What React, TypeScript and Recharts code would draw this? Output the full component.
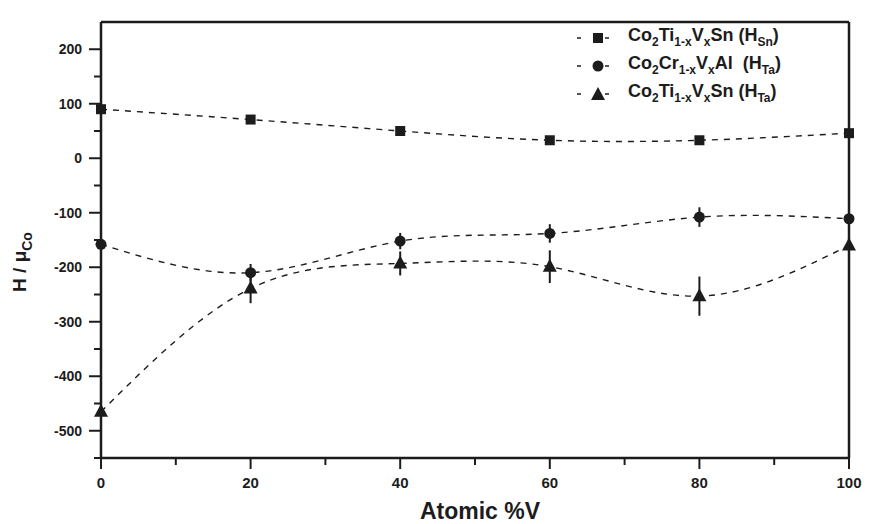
import { LineChart, Line, XAxis, YAxis, ErrorBar, Label } from "recharts";

const atomicV = [0, 20, 40, 60, 80, 100];
const tiSnHSn = [90, 71, 50, 33, 33, 46];
const crAlHTa = [-158, -210, -152, -138, -108, -111];
const crAlHTaErr = [0, 16, 15, 17, 18, 0];
const tiSnHTa = [-465, -239, -193, -199, -253, -160];
const tiSnHTaErr = [0, 27, 22, 30, 36, 0];

const xTicks = [0, 10, 20, 30, 40, 50, 60, 70, 80, 90, 100];
const yTicks = [-550, -500, -450, -400, -350, -300, -250, -200, -150, -100, -50, 0, 50, 100, 150, 200];

const data = atomicV.map((v, i) => ({
  v,
  hsn: tiSnHSn[i],
  cral: crAlHTa[i],
  cralErr: crAlHTaErr[i],
  tisn: tiSnHTa[i],
  tisnErr: tiSnHTaErr[i],
}));

const INK = "#1c1c1c";
const FONT = "'Liberation Sans', Arial, Helvetica, sans-serif";

const Square = ({ cx, cy }: any) => <rect x={cx - 5} y={cy - 5} width={10} height={10} fill={INK} />;
const Dot = ({ cx, cy }: any) => <circle cx={cx} cy={cy} r={5.5} fill={INK} />;
const Tri = ({ cx, cy }: any) => (
  <path d={`M${cx},${cy - 8} L${cx + 7},${cy + 5} L${cx - 7},${cy + 5} Z`} fill={INK} />
);

const YTick = ({ x, y, payload }: any) => {
  const major = payload.value % 100 === 0;
  return (
    <g>
      <line x1={x - (major ? 12 : 7)} x2={x} y1={y} y2={y} stroke={INK} strokeWidth={2} />
      {major && (
        <text x={x - 19} y={y} dy={5} textAnchor="end" fontSize={14} fontWeight="bold" fontFamily={FONT} fill={INK}>
          {payload.value}
        </text>
      )}
    </g>
  );
};

const XTick = ({ x, y, payload }: any) => {
  const major = payload.value % 20 === 0;
  return (
    <g>
      <line x1={x} x2={x} y1={y} y2={y + (major ? 11 : 7)} stroke={INK} strokeWidth={2} />
      {major && (
        <text x={x} y={y + 30} textAnchor="middle" fontSize={15} fontWeight="bold" fontFamily={FONT} fill={INK}>
          {payload.value}
        </text>
      )}
    </g>
  );
};

const XTitle = ({ viewBox }: any) => (
  <text x={viewBox.x + viewBox.width / 2 + 5} y={viewBox.y + 61} textAnchor="middle" fontSize={23} fontWeight="bold" fontFamily={FONT} fill={INK}>
    Atomic %V
  </text>
);

const YTitle = ({ viewBox }: any) => {
  const cx = 26;
  const cy = viewBox.y + viewBox.height / 2 + 22;
  return (
    <text transform={`translate(${cx},${cy}) rotate(-90)`} textAnchor="middle" fontSize={19} fontWeight="bold" fontFamily={FONT} fill={INK}>
      H / μ<tspan dy={6} fontSize={14}>Co</tspan>
    </text>
  );
};

const legendItems = [
  { shape: "square", main: ["Co", "2", "Ti", "1-x", "V", "x", "Sn ("], tag: ["H", "Sn"] },
  { shape: "circle", main: ["Co", "2", "Cr", "1-x", "V", "x", "Al  ("], tag: ["H", "Ta"] },
  { shape: "triangle", main: ["Co", "2", "Ti", "1-x", "V", "x", "Sn ("], tag: ["H", "Ta"] },
];

const LegendMark = ({ shape }: { shape: string }) => (
  <svg width={40} height={14} style={{ marginRight: 14 }}>
    <line x1={3} x2={7} y1={7} y2={7} stroke={INK} strokeWidth={1.5} />
    <line x1={31} x2={35} y1={7} y2={7} stroke={INK} strokeWidth={1.5} />
    {shape === "square" && <rect x={19} y={2} width={10} height={10} fill={INK} />}
    {shape === "circle" && <circle cx={24} cy={7} r={5.5} fill={INK} />}
    {shape === "triangle" && <path d="M24,0 L31,13 L17,13 Z" fill={INK} />}
  </svg>
);

export default function App() {
  return (
    <div style={{ position: "absolute", left: 0, top: 0, width: 869, height: 524, background: "#fff", fontFamily: FONT }}>
      <LineChart width={869} height={524} data={data} margin={{ top: 21, right: 19, bottom: 65, left: 100 }}>
        <XAxis
          dataKey="v"
          type="number"
          domain={[0, 100]}
          ticks={xTicks}
          height={1}
          tickSize={0}
          tickMargin={0}
          tickLine={false}
          tick={<XTick />}
          axisLine={{ stroke: INK, strokeWidth: 2.5 }}
          interval={0}
        >
          <Label content={<XTitle />} />
        </XAxis>
        <XAxis xAxisId="top" orientation="top" type="number" dataKey="v" domain={[0, 100]} height={1} tick={false} tickLine={false} axisLine={{ stroke: INK, strokeWidth: 2.5 }} />
        <YAxis
          type="number"
          domain={[-550, 250]}
          ticks={yTicks}
          width={1}
          tickSize={0}
          tickMargin={0}
          tickLine={false}
          tick={<YTick />}
          axisLine={{ stroke: INK, strokeWidth: 2.5 }}
          interval={0}
        >
          <Label content={<YTitle />} />
        </YAxis>
        <YAxis yAxisId="right" orientation="right" type="number" domain={[-550, 250]} width={1} tick={false} tickLine={false} axisLine={{ stroke: INK, strokeWidth: 2.5 }} />
        <Line type="natural" dataKey="hsn" stroke={INK} strokeWidth={1.4} strokeDasharray="6 6" dot={<Square />} isAnimationActive={false} />
        <Line type="natural" dataKey="cral" stroke={INK} strokeWidth={1.4} strokeDasharray="6 6" dot={<Dot />} isAnimationActive={false}>
          <ErrorBar dataKey="cralErr" width={0} stroke={INK} strokeWidth={2} direction="y" />
        </Line>
        <Line type="natural" dataKey="tisn" stroke={INK} strokeWidth={1.4} strokeDasharray="6 6" dot={<Tri />} isAnimationActive={false}>
          <ErrorBar dataKey="tisnErr" width={0} stroke={INK} strokeWidth={2} direction="y" />
        </Line>
      </LineChart>
      <div style={{ position: "absolute", left: 574, top: 24, color: INK, fontWeight: "bold", fontSize: 18, lineHeight: "28px" }}>
        {legendItems.map((it, i) => (
          <div key={i} style={{ display: "flex", alignItems: "center", height: 28 }}>
            <LegendMark shape={it.shape} />
            <span style={{ whiteSpace: "pre" }}>
              {it.main.map((t, j) => (j % 2 === 1 ? <sub key={j} style={{ fontSize: 12 }}>{t}</sub> : <span key={j}>{t}</span>))}
              {it.tag[0]}
              <sub style={{ fontSize: 12 }}>{it.tag[1]}</sub>)
            </span>
          </div>
        ))}
      </div>
    </div>
  );
}
